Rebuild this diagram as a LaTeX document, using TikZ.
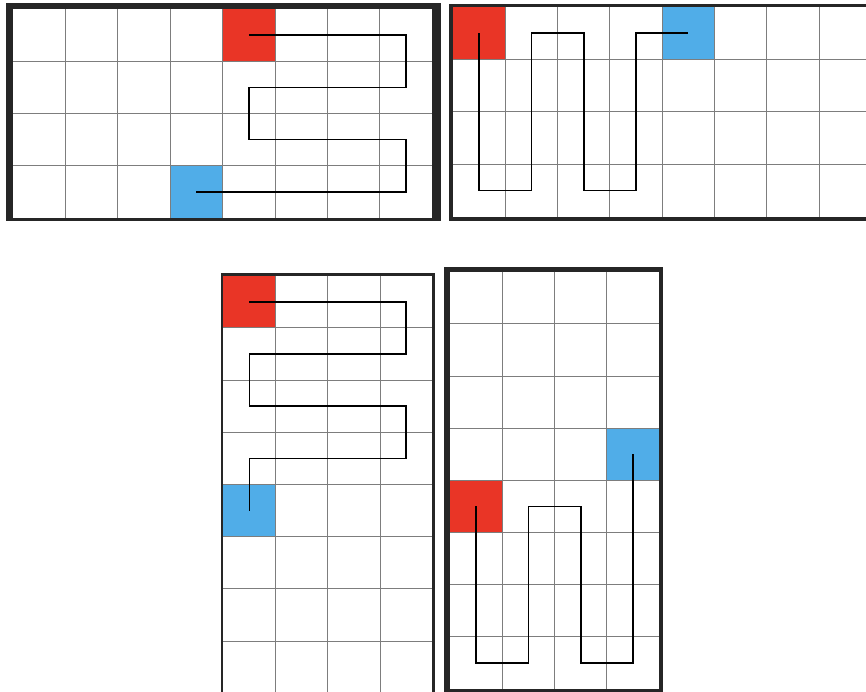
\documentclass[tikz,border=0pt]{standalone}
\definecolor{bord}{RGB}{38,38,38}
\definecolor{cellred}{RGB}{233,53,38}
\definecolor{cellblue}{RGB}{80,173,232}
\definecolor{gline}{RGB}{125,125,125}
\begin{document}
\begin{tikzpicture}[x=1pt,y=-1pt,
  gridline/.style={draw=gline,line width=0.9pt},
  route/.style={draw=black,line width=1.5pt,line join=miter},
  frame/.style={fill=bord}]
\useasboundingbox (0,0) rectangle (866,692);
\fill[white] (0,0) rectangle (866,692);
\clip (0,0) rectangle (866,692);

% ---------- grid 1 (top left) ----------
\fill[frame] (6,3) rectangle (441,221);
\fill[white] (13,9) rectangle (432,218);
\begin{scope}[shift={(13,9)},x=52.4pt,y=-52.25pt]
  \fill[cellred] (4,0) rectangle (5,1);
  \fill[cellblue] (3,3) rectangle (4,4);
  \foreach \i in {1,...,7} \draw[gridline] (\i,0) -- (\i,4);
  \foreach \j in {1,...,3} \draw[gridline] (0,\j) -- (8,\j);
  \coordinate (s1) at (4.5,0.5);
  \coordinate (e1) at (3.5,3.5);
  \draw[route] (s1) -- (7.5,0.5) -- (7.5,1.5) -- (4.5,1.5) -- (4.5,2.5)
    -- (7.5,2.5) -- (7.5,3.5) -- (e1);
\end{scope}

% ---------- grid 2 (top right) ----------
\fill[frame] (449,4) rectangle (890,221);
\fill[white] (453,7) rectangle (890,216.6);
\begin{scope}[shift={(453,7)},x=52.3pt,y=-52.4pt]
  \fill[cellred] (0,0) rectangle (1,1);
  \fill[cellblue] (4,0) rectangle (5,1);
  \foreach \i in {1,...,8} \draw[gridline] (\i,0) -- (\i,4);
  \foreach \j in {1,...,3} \draw[gridline] (0,\j) -- (9,\j);
  \coordinate (s2) at (0.5,0.5);
  \coordinate (e2) at (4.5,0.5);
  \draw[route] (s2) -- (0.5,3.5) -- (1.5,3.5) -- (1.5,0.5) -- (2.5,0.5)
    -- (2.5,3.5) -- (3.5,3.5) -- (3.5,0.5) -- (e2);
\end{scope}

% ---------- grid 3 (bottom left) ----------
\fill[frame] (221,273.3) rectangle (434.7,710);
\fill[white] (223.3,275.7) rectangle (432.3,710);
\begin{scope}[shift={(223.3,275.7)},x=52.25pt,y=-52.2pt]
  \fill[cellred] (0,0) rectangle (1,1);
  \fill[cellblue] (0,4) rectangle (1,5);
  \foreach \i in {1,...,3} \draw[gridline] (\i,0) -- (\i,9);
  \foreach \j in {1,...,7} \draw[gridline] (0,\j) -- (4,\j);
  \coordinate (s3) at (0.5,0.5);
  \coordinate (e3) at (0.5,4.5);
  \draw[route] (s3) -- (3.5,0.5) -- (3.5,1.5) -- (0.5,1.5) -- (0.5,2.5)
    -- (3.5,2.5) -- (3.5,3.5) -- (0.5,3.5) -- (e3);
\end{scope}

% ---------- grid 4 (bottom right) ----------
\fill[frame] (444,266.7) rectangle (662.7,710);
\fill[white] (450,271.7) rectangle (659.3,689);
\begin{scope}[shift={(450,271.7)},x=52.3pt,y=-52.16pt]
  \fill[cellred] (0,4) rectangle (1,5);
  \fill[cellblue] (3,3) rectangle (4,4);
  \foreach \i in {1,...,3} \draw[gridline] (\i,0) -- (\i,8);
  \foreach \j in {1,...,7} \draw[gridline] (0,\j) -- (4,\j);
  \coordinate (s4) at (0.5,4.5);
  \coordinate (e4) at (3.5,3.5);
  \draw[route] (s4) -- (0.5,7.5) -- (1.5,7.5) -- (1.5,4.5) -- (2.5,4.5)
    -- (2.5,7.5) -- (3.5,7.5) -- (e4);
\end{scope}
\end{tikzpicture}
\end{document}
